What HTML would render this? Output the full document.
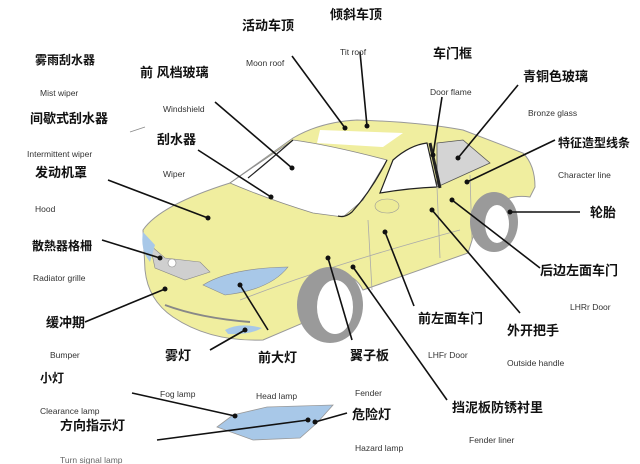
<!DOCTYPE html>
<html><head><meta charset="utf-8"><style>
html,body{margin:0;padding:0;background:#fff;width:640px;height:464px;overflow:hidden}
svg{display:block}
.c{font-family:"Liberation Sans","Noto Sans CJK SC",sans-serif;font-weight:bold;font-size:13px;fill:#111}
.e{font-family:"Liberation Sans",sans-serif;font-size:8.5px;fill:#333}
line.l{stroke:#111;stroke-width:1.6}
</style></head><body>
<svg width="640" height="464" viewBox="0 0 640 464" xmlns="http://www.w3.org/2000/svg">
<path d="M143,230 Q160,205 230,183 L293,138 Q320,122 357,120 Q420,122 463,130 L523,153 Q535,165 535,187 L530,197 Q515,195 505,200 Q490,200 480,215 L468,253 L363,290 Q350,265 320,280 Q300,300 303,323 L263,340 Q210,342 173,317 Q148,300 145,270 Z" fill="#f0ee9f" stroke="#999" stroke-width="1"/>
<path d="M230,183 L293,140 Q330,145 387,160 L363,200 L343,217 L313,213 Q270,200 230,183 Z" fill="#fff" stroke="#888" stroke-width="0.8"/>
<path d="M293,140 Q270,160 248,178" stroke="#222" stroke-width="1.2" fill="none"/>
<path d="M387,160 Q372,190 352,212 Q345,218 338,216" stroke="#222" stroke-width="1.2" fill="none"/>
<path d="M320,130 L403,133 L383,147 L317,143 Z" fill="#fff"/>
<path d="M380,193 L393,160 Q410,145 427,143 L437,187 Q410,188 380,193 Z" fill="#fff" stroke="#222" stroke-width="1.2"/>
<path d="M437,143 L463,140 L490,163 L437,187 Z" fill="#d4d4d4" stroke="#555" stroke-width="0.8"/>
<path d="M430,143 L440,188" stroke="#222" stroke-width="3"/>
<path d="M368,220 L372,290 M437,187 L440,258 M470,175 L472,240" stroke="#aaa" stroke-width="0.8" fill="none"/>
<ellipse cx="387" cy="206" rx="12" ry="7" fill="#eeec98" stroke="#999" stroke-width="0.6"/>
<path d="M150,245 L165,258 L200,262 L210,272 L185,280 L155,268 Z" fill="#cfcfcf" stroke="#888" stroke-width="0.6"/>
<circle cx="172" cy="263" r="4" fill="#fff" stroke="#888" stroke-width="0.6"/>
<path d="M203,285 Q230,268 288,267 Q270,290 225,295 Z" fill="#a8c8e8" stroke="#888" stroke-width="0.6"/>
<path d="M225,330 Q240,322 262,328 Q250,335 228,334 Z" fill="#a8c8e8"/>
<path d="M143,232 Q140,250 150,262 L155,245 Z" fill="#a8c8e8"/>
<path d="M165,305 Q200,318 250,322" stroke="#888" stroke-width="2" fill="none"/>
<path d="M240,300 Q330,265 460,230" stroke="#aaa" stroke-width="0.8" fill="none"/>
<ellipse cx="330" cy="305" rx="33" ry="38" fill="#9a9a9a"/>
<ellipse cx="335" cy="307" rx="18" ry="27" fill="#fff"/>
<ellipse cx="494" cy="222" rx="24" ry="30" fill="#9a9a9a"/>
<ellipse cx="497" cy="224" rx="12" ry="19" fill="#fff"/>
<path d="M217,427 L233,415 L267,407 L333,405 L317,423 L300,438 L253,440 Z" fill="#a8c8e8" stroke="#999" stroke-width="0.8"/>
<g>
<line class="l" x1="292" y1="56" x2="345" y2="128"/><line class="l" x1="360" y1="52" x2="367" y2="126"/>
<line class="l" x1="442" y1="97" x2="433" y2="155"/><line class="l" x1="518" y1="85" x2="458" y2="158"/>
<line class="l" x1="555" y1="140" x2="467" y2="182"/><line class="l" x1="580" y1="212" x2="510" y2="212"/>
<line class="l" x1="540" y1="268" x2="452" y2="200"/><line class="l" x1="520" y1="313" x2="432" y2="210"/>
<line class="l" x1="414" y1="306" x2="385" y2="232"/><line class="l" x1="352" y1="340" x2="328" y2="258"/>
<line class="l" x1="447" y1="400" x2="353" y2="267"/><line class="l" x1="215" y1="102" x2="292" y2="168"/>
<line class="l" x1="198" y1="150" x2="271" y2="197"/><line class="l" x1="108" y1="180" x2="208" y2="218"/>
<line class="l" x1="102" y1="240" x2="160" y2="258"/><line class="l" x1="85" y1="322" x2="165" y2="289"/>
<line class="l" x1="210" y1="350" x2="245" y2="330"/><line class="l" x1="268" y1="330" x2="240" y2="285"/>
<line class="l" x1="132" y1="393" x2="235" y2="416"/><line class="l" x1="157" y1="440" x2="308" y2="420"/>
<line class="l" x1="347" y1="413" x2="315" y2="422"/>
<line x1="145" y1="127" x2="130" y2="132" stroke="#888" stroke-width="0.8"/>
</g>
<g fill="#111">
<circle cx="345" cy="128" r="2.5"/><circle cx="367" cy="126" r="2.5"/><circle cx="433" cy="155" r="2.5"/>
<circle cx="458" cy="158" r="2.5"/><circle cx="467" cy="182" r="2.5"/><circle cx="510" cy="212" r="2.5"/>
<circle cx="452" cy="200" r="2.5"/><circle cx="432" cy="210" r="2.5"/><circle cx="385" cy="232" r="2.5"/>
<circle cx="328" cy="258" r="2.5"/><circle cx="353" cy="267" r="2.5"/><circle cx="292" cy="168" r="2.5"/>
<circle cx="271" cy="197" r="2.5"/><circle cx="208" cy="218" r="2.5"/><circle cx="160" cy="258" r="2.5"/>
<circle cx="165" cy="289" r="2.5"/><circle cx="245" cy="330" r="2.5"/><circle cx="240" cy="285" r="2.5"/>
<circle cx="235" cy="416" r="2.5"/><circle cx="308" cy="420" r="2.5"/><circle cx="315" cy="422" r="2.5"/>
</g>
<text class="c" x="242" y="30">活动车顶</text>
<text class="c" x="330" y="19">倾斜车顶</text>
<text class="c" x="35" y="64" style="font-size:12px">雾雨刮水器</text>
<text class="c" x="140" y="77">前 风档玻璃</text>
<text class="e" x="246" y="66">Moon roof</text>
<text class="e" x="340" y="55">Tit roof</text>
<text class="c" x="433" y="58">车门框</text>
<text class="e" x="430" y="95">Door flame</text>
<text class="c" x="523" y="81">青铜色玻璃</text>
<text class="e" x="528" y="116">Bronze glass</text>
<text class="c" x="558" y="147" style="font-size:12px">特征造型线条</text>
<text class="e" x="558" y="178">Character line</text>
<text class="c" x="590" y="217">轮胎</text>
<text class="e" x="40" y="96">Mist wiper</text>
<text class="c" x="30" y="123">间歇式刮水器</text>
<text class="e" x="163" y="112">Windshield</text>
<text class="c" x="157" y="144">刮水器</text>
<text class="e" x="27" y="157">Intermittent wiper</text>
<text class="c" x="35" y="177">发动机罩</text>
<text class="e" x="163" y="177">Wiper</text>
<text class="e" x="35" y="212">Hood</text>
<text class="c" x="32" y="250" style="font-size:12px">散熱器格柵</text>
<text class="e" x="33" y="281">Radiator grille</text>
<text class="c" x="540" y="275">后边左面车门</text>
<text class="e" x="570" y="310">LHRr Door</text>
<text class="c" x="46" y="327">缓冲期</text>
<text class="c" x="418" y="323">前左面车门</text>
<text class="c" x="507" y="335">外开把手</text>
<text class="e" x="50" y="358">Bumper</text>
<text class="c" x="165" y="360">雾灯</text>
<text class="c" x="258" y="362">前大灯</text>
<text class="c" x="350" y="360">翼子板</text>
<text class="e" x="428" y="358">LHFr Door</text>
<text class="e" x="507" y="366">Outside handle</text>
<text class="c" x="40" y="382" style="font-size:12px">小灯</text>
<text class="e" x="160" y="397">Fog lamp</text>
<text class="e" x="256" y="399">Head lamp</text>
<text class="e" x="355" y="396">Fender</text>
<text class="c" x="452" y="412">挡泥板防锈衬里</text>
<text class="e" x="40" y="414">Clearance lamp</text>
<text class="c" x="60" y="430">方向指示灯</text>
<text class="c" x="352" y="419">危险灯</text>
<text class="e" x="355" y="451">Hazard  lamp</text>
<text class="e" x="469" y="443">Fender liner</text>
<text class="e" x="60" y="463" style="fill:#666">Turn signal lamp</text>
</svg>
</body></html>
